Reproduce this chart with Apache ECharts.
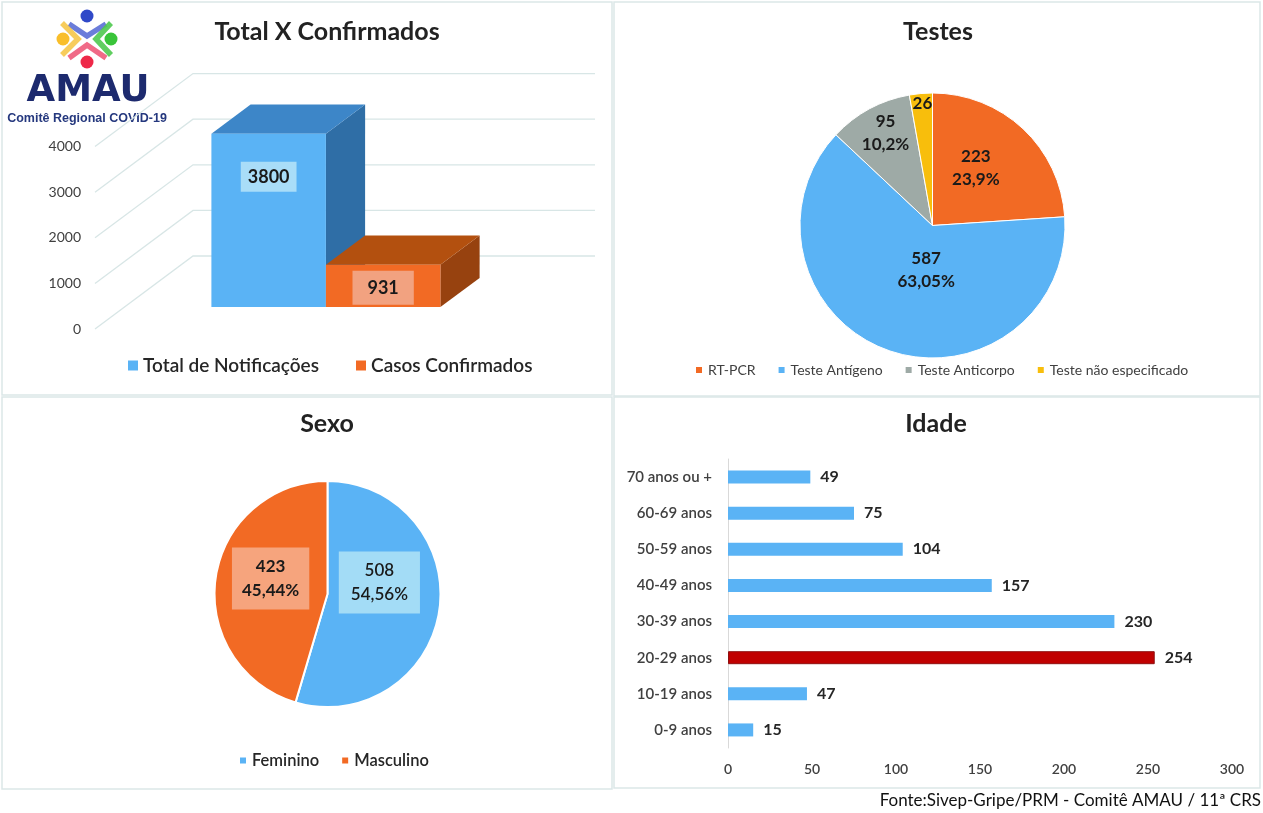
<!DOCTYPE html>
<html style="height: 100%;width:100%">
<head>
<meta charset="utf-8">
<style>html,body{margin:0;padding:0;background:#fff}</style>
</head>
<body>
<div id="chart-panel" style="width:1263px;height:813px"></div>
<script src="https://cdn.jsdelivr.net/npm/echarts@6/dist/echarts.min.js"></script>
<script>
// Total X Confirmados
var totalNames = ['Total de Notificações', 'Casos Confirmados'];
var totalValues = [3800, 931];
var totalTicks = [0, 1000, 2000, 3000, 4000];

// Testes
var testeNames = ['RT-PCR', 'Teste Antígeno', 'Teste Anticorpo', 'Teste não especificado'];
var testeValues = [223, 587, 95, 26];
var testePct = ['23,9%', '63,05%', '10,2%', ''];

// Sexo
var sexoNames = ['Feminino', 'Masculino'];
var sexoValues = [508, 423];
var sexoPct = ['54,56%', '45,44%'];

// Idade (de baixo para cima)
var idadeCats = ['0-9 anos', '10-19 anos', '20-29 anos', '30-39 anos', '40-49 anos', '50-59 anos', '60-69 anos', '70 anos ou +'];
var idadeValues = [15, 47, 254, 230, 157, 104, 75, 49];

var FONT = 'Lato';
var BLUE = '#5ab3f5', ORANGE = '#f26a24', GRAY = '#9eaaa6', YELLOW = '#f8be0c';
var GRID_LINE = '#d8e6e6';

// profundidade do "chao" do grafico 3D, em px
var DEPTH = [98, -73];
var BAR_FRONT = 0.3, BAR_BACK = 0.7;

function bar3d(front, top, side, boxColor, pad) {
    return function (params, api) {
        var idx = api.value(0), v = api.value(1);
        var pTop = api.coord([idx, v]);
        var pBase = api.coord([idx, 0]);
        var w = api.size([1, 0])[0];
        var fx = DEPTH[0] * BAR_FRONT, fy = DEPTH[1] * BAR_FRONT;
        var ddx = DEPTH[0] * (BAR_BACK - BAR_FRONT), ddy = DEPTH[1] * (BAR_BACK - BAR_FRONT);
        var x0 = pTop[0] - w / 2 + fx, x1 = pTop[0] + w / 2 + fx;
        var yT = pTop[1] + fy, yB = pBase[1] + fy;
        var ly = yT + Math.min(43, (yB - yT) / 2 + 2);
        return {
            type: 'group',
            children: [
                {type: 'polygon', shape: {points: [[x1, yT], [x1 + ddx, yT + ddy], [x1 + ddx, yB + ddy], [x1, yB]]}, style: {fill: side}},
                {type: 'polygon', shape: {points: [[x0, yT], [x0 + ddx, yT + ddy], [x1 + ddx, yT + ddy], [x1, yT]]}, style: {fill: top}},
                {type: 'rect', shape: {x: x0, y: yT, width: x1 - x0, height: yB - yT}, style: {fill: front}},
                {type: 'text', x: (x0 + x1) / 2, y: ly, style: {
                    text: String(v), align: 'center', verticalAlign: 'middle',
                    font: 'bold 18px ' + FONT, fill: '#1a1a1a',
                    backgroundColor: boxColor, padding: pad
                }}
            ]
        };
    };
}

var dom = document.getElementById('chart-panel');
var myChart = echarts.init(dom);

var testeNudge = [[-4, -7], [17, -21], [-14, -32], [-4, -53]];
var sexoNudge = [[-7, -20], [2, -7]];

var idadeMax = idadeValues.indexOf(Math.max.apply(null, idadeValues));

var titleStyle = {fontSize: 25, fontWeight: 'bold', color: '#222', fontFamily: FONT};

var option = {
    backgroundColor: '#fff',
    animation: false,
    textStyle: {fontFamily: FONT},
    title: [
        {text: 'Total X Confirmados', left: 327, top: 19, textAlign: 'center', padding: 0, textStyle: titleStyle},
        {text: 'Testes', left: 938, top: 19, textAlign: 'center', padding: 0, textStyle: titleStyle},
        {text: 'Sexo', left: 327, top: 411, textAlign: 'center', padding: 0, textStyle: titleStyle},
        {text: 'Idade', left: 936, top: 411, textAlign: 'center', padding: 0, textStyle: titleStyle}
    ],
    legend: [
        {data: totalNames, left: 128, top: 356, padding: 0, itemGap: 37, icon: 'rect', itemWidth: 10, itemHeight: 10,
            textStyle: {fontSize: 19, fontWeight: 600, color: '#262626', fontFamily: FONT}},
        {data: testeNames, left: 694, top: 363, padding: 0, itemGap: 21, icon: 'rect', itemWidth: 8, itemHeight: 8,
            textStyle: {fontSize: 14, color: '#404040', fontFamily: FONT}},
        {data: sexoNames, left: 238, top: 752, padding: 0, itemGap: 21, icon: 'rect', itemWidth: 8, itemHeight: 8,
            textStyle: {fontSize: 16.5, fontWeight: 600, color: '#262626', fontFamily: FONT}}
    ],
    grid: [
        {left: 182, top: 146.6, width: 229, height: 182.4},
        {left: 728, right: 31, top: 459, bottom: 65}
    ],
    xAxis: [
        {gridIndex: 0, type: 'category', data: totalNames, show: false},
        {gridIndex: 1, type: 'value', min: 0, max: 300, interval: 50,
            axisLine: {show: false}, axisTick: {show: false}, splitLine: {show: false},
            axisLabel: {margin: 14, fontSize: 14, fontWeight: 600, color: '#404040', fontFamily: FONT}}
    ],
    yAxis: [
        {gridIndex: 0, type: 'value', min: 0, max: 4000, interval: 1000,
            axisLine: {show: false}, axisTick: {show: false}, splitLine: {show: false},
            axisLabel: {margin: 101, fontSize: 14, color: '#404040', fontFamily: FONT,
                formatter: function (v) { return String(v); }}},
        {gridIndex: 1, type: 'category', data: idadeCats,
            axisLine: {show: true, lineStyle: {color: '#d9d9d9', width: 1}}, axisTick: {show: false},
            axisLabel: {margin: 16, fontSize: 15, fontWeight: 600, color: '#404040', fontFamily: FONT}}
    ],
    series: [
        // linhas de grade em perspectiva
        {
            type: 'custom', xAxisIndex: 0, yAxisIndex: 0, silent: true, z: 1,
            data: totalTicks.map(function (v) { return [0, v]; }),
            encode: {x: 0, y: 1},
            renderItem: function (params, api) {
                var cs = params.coordSys;
                var y = api.coord([0, api.value(1)])[1];
                var xl = cs.x - 87;
                var xr = cs.x + cs.width + 184;
                return {
                    type: 'polyline',
                    shape: {points: [[xl, y], [xl + DEPTH[0], y + DEPTH[1]], [xr, y + DEPTH[1]]]},
                    style: {stroke: GRID_LINE, lineWidth: 1.3, fill: null}
                };
            }
        },
        {
            name: totalNames[0], type: 'custom', xAxisIndex: 0, yAxisIndex: 0, z: 3,
            itemStyle: {color: BLUE},
            data: [[0, totalValues[0]]], encode: {x: 0, y: 1},
            renderItem: bar3d(BLUE, '#3d86c8', '#2f6ea6', '#a9ddf8', [6, 7])
        },
        {
            name: totalNames[1], type: 'custom', xAxisIndex: 0, yAxisIndex: 0, z: 4,
            itemStyle: {color: ORANGE},
            data: [[1, totalValues[1]]], encode: {x: 0, y: 1},
            renderItem: bar3d(ORANGE, '#b3500f', '#97420f', '#f2a280', [8, 15])
        },
        {
            type: 'pie', center: [932.5, 225.5], radius: 132.5, startAngle: 90, clockwise: true,
            color: [ORANGE, BLUE, GRAY, YELLOW],
            itemStyle: {borderColor: '#fff', borderWidth: 1},
            data: testeNames.map(function (n, i) { return {name: n, value: testeValues[i]}; }),
            label: {
                show: true, position: 'inside', fontSize: 17, fontWeight: 'bold', color: '#1a1a1a',
                lineHeight: 23, fontFamily: FONT,
                formatter: function (p) {
                    var pct = testePct[p.dataIndex];
                    return pct ? p.value + '\n' + pct : String(p.value);
                }
            },
            labelLine: {show: false},
            labelLayout: function (p) {
                var d = testeNudge[p.dataIndex];
                return {dx: d[0], dy: d[1]};
            }
        },
        {
            type: 'pie', center: [327.5, 594], radius: 113, startAngle: 90, clockwise: true,
            color: [BLUE, ORANGE],
            itemStyle: {borderColor: '#fff', borderWidth: 2},
            data: [
                {name: sexoNames[0], value: sexoValues[0],
                    label: {backgroundColor: '#a3dcf6', fontWeight: 600, padding: [7, 12]}},
                {name: sexoNames[1], value: sexoValues[1],
                    label: {backgroundColor: '#f6a47d', fontWeight: 'bold', padding: [7, 10]}}
            ],
            label: {
                show: true, position: 'inside', fontSize: 17, color: '#1a1a1a', lineHeight: 24, fontFamily: FONT,
                formatter: function (p) { return p.value + '\n' + sexoPct[p.dataIndex]; }
            },
            labelLine: {show: false},
            labelLayout: function (p) {
                var d = sexoNudge[p.dataIndex];
                return {dx: d[0], dy: d[1]};
            }
        },
        {
            type: 'bar', xAxisIndex: 1, yAxisIndex: 1, barWidth: 13,
            itemStyle: {color: BLUE},
            data: idadeValues.map(function (v, i) {
                return i === idadeMax ? {value: v, itemStyle: {color: '#c00000', borderColor: '#8e1010', borderWidth: 1}} : v;
            }),
            label: {show: true, position: 'right', distance: 10, fontSize: 16, fontWeight: 'bold', color: '#262626', fontFamily: FONT}
        }
    ],
    graphic: [
        {type: 'rect', silent: true, shape: {x: 2, y: 2, width: 610, height: 393}, style: {fill: null, stroke: '#dbe7e8', lineWidth: 1.5}},
        {type: 'rect', silent: true, shape: {x: 614, y: 2, width: 646, height: 394}, style: {fill: null, stroke: '#dbe7e8', lineWidth: 1.5}},
        {type: 'rect', silent: true, shape: {x: 2, y: 397, width: 610, height: 392}, style: {fill: null, stroke: '#dbe7e8', lineWidth: 1.5}},
        {type: 'rect', silent: true, shape: {x: 614, y: 397, width: 646, height: 391}, style: {fill: null, stroke: '#dbe7e8', lineWidth: 1.5}},
        // logo AMAU
        {type: 'group', silent: true, z: 100, children: [
            {type: 'rect', shape: {x: 4, y: 4, width: 166, height: 122}, style: {fill: '#fff'}},
            {type: 'polyline', shape: {points: [[69, 24], [87, 36], [106, 24]]}, style: {stroke: '#5b6fd6', lineWidth: 5.5, fill: null, opacity: 0.9}},
            {type: 'polyline', shape: {points: [[69, 58], [87, 45], [106, 58]]}, style: {stroke: '#ee5a7a', lineWidth: 5.5, fill: null, opacity: 0.9}},
            {type: 'polyline', shape: {points: [[62, 23], [78, 39], [62, 55]]}, style: {stroke: '#f6c64a', lineWidth: 5.5, fill: null, opacity: 0.9}},
            {type: 'polyline', shape: {points: [[111, 23], [96, 39], [111, 55]]}, style: {stroke: '#4fc94f', lineWidth: 5.5, fill: null, opacity: 0.9}},
            {type: 'circle', shape: {cx: 87, cy: 16, r: 6.5}, style: {fill: '#3049c8'}},
            {type: 'circle', shape: {cx: 111, cy: 39, r: 6.5}, style: {fill: '#39c439'}},
            {type: 'circle', shape: {cx: 87, cy: 62, r: 6.5}, style: {fill: '#ee2848'}},
            {type: 'circle', shape: {cx: 63, cy: 39, r: 6.5}, style: {fill: '#f9be2a'}},
            {type: 'text', style: {text: 'AMAU', x: 88, y: 91, align: 'center', verticalAlign: 'middle',
                textAlign: 'center', textVerticalAlign: 'middle',
                font: 'bold 37px "DejaVu Sans"', fill: '#1d2a6e'}},
            {type: 'text', style: {text: 'Comitê Regional COVID-19', x: 87, y: 119, align: 'center', verticalAlign: 'middle',
                textAlign: 'center', textVerticalAlign: 'middle',
                font: 'bold 12.5px "Liberation Sans"', fill: '#25387e'}}
        ]},
        {type: 'text', silent: true, style: {text: 'Fonte:Sivep-Gripe/PRM - Comitê AMAU / 11ª CRS', x: 1261, y: 801,
            align: 'right', verticalAlign: 'middle', textAlign: 'right', textVerticalAlign: 'middle',
            font: '17px ' + FONT, fill: '#111'}}
    ]
};

myChart.setOption(option);
</script>
</body>
</html>
